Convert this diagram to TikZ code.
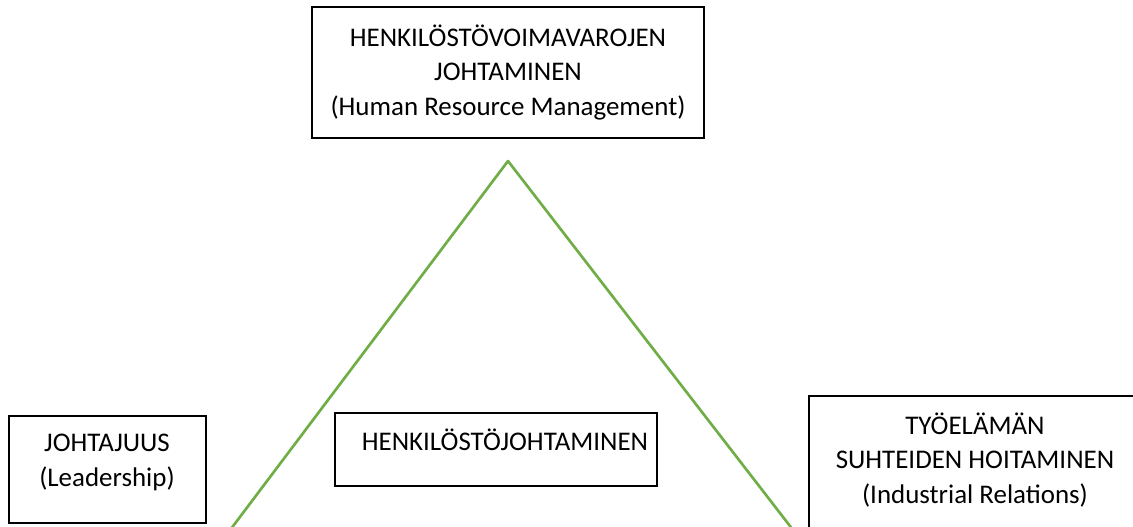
\documentclass[tikz,border=0pt]{standalone}
\usepackage{fontspec}
\setmainfont{Carlito}
\usepackage{tkz-euclide}
\definecolor{triGreen}{RGB}{112,173,71}
\tikzset{
	box/.style={draw=black, line width=1pt, inner sep=0pt},
	boxtext/.style={align=center, inner sep=0pt, font=\fontsize{20.2}{26.2}\selectfont}
}

\begin{document}
\begin{tikzpicture}[x=0.75pt,y=-0.75pt]
		\useasboundingbox (0,0) rectangle (1133,526);
		\clip (0,0) rectangle (1133,526);
		\tkzDefPoints{508/161/A,222.6/540/B,800.8/540/C}
		\tkzDrawSegments[color=triGreen, line width=2pt](A,B A,C)
		\node[box, minimum width=294pt, minimum height=98.25pt] (hrm) at (508,72.5) {};
		\node[box, minimum width=147.75pt, minimum height=80.25pt] (lead) at (107.5,469.5) {};
		\node[box, minimum width=241.5pt, minimum height=54.75pt] (hj) at (496,449.5) {};
		\node[box, minimum width=252pt, minimum height=115.5pt] (ir) at (977,473) {};
		\node[boxtext] (hrmtext) at (hrm.center) {HENKILÖSTÖVOIMAVAROJEN\\JOHTAMINEN\\(Human Resource Management)};
		\node[boxtext] (leadtext) at (107,462) {JOHTAJUUS\\(Leadership)};
		\node[boxtext] (hjtext) at (505,440) {HENKILÖSTÖJOHTAMINEN};
		\node[boxtext] (irtext) at (975,460) {TYÖELÄMÄN\\SUHTEIDEN HOITAMINEN\\(Industrial Relations)};
		\end{tikzpicture}
\end{document}
